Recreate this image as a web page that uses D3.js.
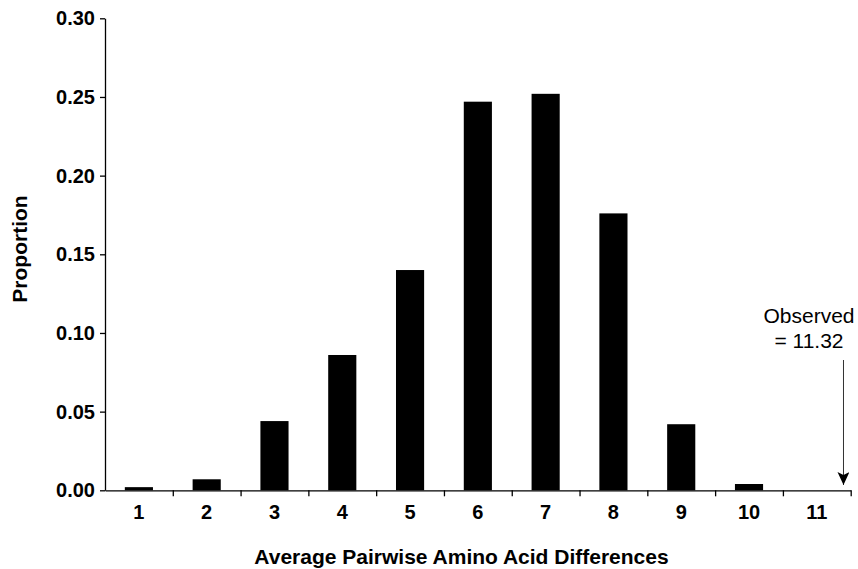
<!DOCTYPE html>
<html>
<head>
<meta charset="utf-8">
<script src="https://cdn.jsdelivr.net/npm/d3@7"></script>
<style>
  body { margin: 0; background: #fff; }
  svg { display: block; font-family: "Liberation Sans", Arial, Helvetica, sans-serif; }
</style>
</head>
<body>
<svg width="858" height="569"></svg>
<script>
// data
const categories = [1, 2, 3, 4, 5, 6, 7, 8, 9, 10, 11];
const proportions = [0.002, 0.007, 0.044, 0.086, 0.140, 0.247, 0.252, 0.176, 0.042, 0.004, 0];
const yTicks = [0, 0.05, 0.10, 0.15, 0.20, 0.25, 0.30];
const observedValue = 11.32;
const observedLabel = ["Observed", "= 11.32"];

const width = 858;
const height = 569;
const margin = { top: 18.3, right: 7.3, bottom: 78.7, left: 105 };

const svg = d3.select('svg');

// x band scale, ticks sit on band edges
const x = d3.scaleBand()
  .domain(categories)
  .range([margin.left, width - margin.right])
  .paddingInner(0.585)
  .paddingOuter(0.2925);

// continuous version of x, used for band edges and the observed arrow
const xLin = d3.scaleLinear()
  .domain([0.5, categories.length + 0.5])
  .range([margin.left, width - margin.right]);

const y = d3.scaleLinear()
  .domain([0, 0.30])
  .range([height - margin.bottom, margin.top]);

// Bars
svg.selectAll("rect.bar")
  .data(categories)
  .enter().append("rect")
  .attr("class", "bar")
  .attr("x", d => x(d))
  .attr("y", (d, i) => y(proportions[i]))
  .attr("width", x.bandwidth())
  .attr("height", (d, i) => y(0) - y(proportions[i]))
  .attr("fill", "#000");

// Y axis
const yAxis = svg.append("g")
  .attr("transform", `translate(${margin.left},0)`)
  .call(d3.axisLeft(y).tickValues(yTicks).tickFormat(d3.format(".2f")).tickSize(5).tickSizeOuter(0).tickPadding(5));

yAxis.selectAll("text")
  .attr("font-size", 20)
  .attr("font-weight", "bold")
  .attr("fill", "#000");

// X axis: edge ticks
const edges = d3.range(1.5, categories.length + 1, 1);
svg.append("g")
  .attr("transform", `translate(0,${y(0)})`)
  .call(d3.axisBottom(xLin).tickValues(edges).tickFormat("").tickSize(6).tickSizeOuter(0));

// X axis: category labels
const xAxis = svg.append("g")
  .attr("transform", `translate(0,${y(0)})`)
  .call(d3.axisBottom(x).tickSize(0).tickPadding(15));
xAxis.select(".domain").remove();

xAxis.selectAll("text")
  .attr("font-size", 20)
  .attr("font-weight", "bold")
  .attr("fill", "#000");

svg.selectAll(".domain, .tick line")
  .attr("stroke", "#000")
  .attr("stroke-width", 1.3);

// Axis titles
svg.append("text")
  .attr("x", 461.5)
  .attr("y", 564)
  .attr("text-anchor", "middle")
  .attr("font-size", 21)
  .attr("font-weight", "bold")
  .text("Average Pairwise Amino Acid Differences");

svg.append("text")
  .attr("transform", `translate(27,249) rotate(-90)`)
  .attr("text-anchor", "middle")
  .attr("font-size", 21)
  .attr("font-weight", "bold")
  .text("Proportion");

// Observed value annotation
const ox = xLin(observedValue) + 5;

svg.append("defs").append("marker")
  .attr("id", "arrow")
  .attr("viewBox", "0 0 13 12")
  .attr("refX", 13)
  .attr("refY", 6)
  .attr("markerWidth", 13)
  .attr("markerHeight", 12)
  .attr("markerUnits", "userSpaceOnUse")
  .attr("orient", "auto")
  .append("path")
  .attr("d", "M0,0 L13,6 L0,12 L3,6 Z")
  .attr("fill", "#000");

svg.append("line")
  .attr("x1", ox)
  .attr("x2", ox)
  .attr("y1", 360)
  .attr("y2", 485)
  .attr("stroke", "#333")
  .attr("stroke-width", 1)
  .attr("marker-end", "url(#arrow)");

svg.selectAll("text.observed")
  .data(observedLabel)
  .enter().append("text")
  .attr("class", "observed")
  .attr("x", 809)
  .attr("y", (d, i) => 322.7 + i * 25.3)
  .attr("text-anchor", "middle")
  .attr("font-size", 21)
  .attr("fill", "#000")
  .text(d => d);
</script>
</body>
</html>
